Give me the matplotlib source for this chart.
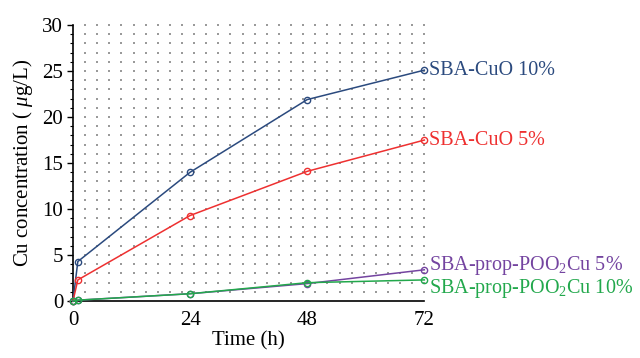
import numpy as np
import matplotlib
matplotlib.use("Agg")
import matplotlib.pyplot as plt
from matplotlib.ticker import MultipleLocator, FixedLocator

# Data
time_h = [0, 1, 24, 48, 72]
cuo_10 = [0.0, 4.3, 14.0, 21.9, 25.1]
cuo_5 = [0.0, 2.3, 9.3, 14.1, 17.5]
poo_5 = [0.0, 0.1, 0.8, 1.9, 3.4]
poo_10 = [0.0, 0.1, 0.8, 2.0, 2.3]

series = [
    ("SBA-CuO 10%", cuo_10, "#2b4a7e", 0),
    ("SBA-CuO 5%", cuo_5, "#ee3030", 0),
    ("SBA-prop-POO$_2$Cu 5%", poo_5, "#7444a0", 3),
    ("SBA-prop-POO$_2$Cu 10%", poo_10, "#22a84c", -6),
]

x_ticks = [0, 24, 48, 72]
y_ticks = [0, 5, 10, 15, 20, 25, 30]

plt.rcParams["font.family"] = ["Liberation Serif", "DejaVu Serif"]
plt.rcParams["mathtext.fontset"] = "custom"
plt.rcParams["mathtext.rm"] = "Liberation Serif"
plt.rcParams["mathtext.it"] = "Liberation Serif:italic"

fig = plt.figure(figsize=(6.4, 3.58), dpi=100)
ax = fig.add_axes([0.114, 0.159, 0.549, 0.771])

# dotted background grid
gx, gy = np.meshgrid(np.arange(1, 30) * 72 / 29, np.arange(1, 31))
ax.scatter(gx.ravel(), gy.ravel(), s=0.6, marker="s", color="#9a9a9a",
           linewidths=0, zorder=0, clip_on=False)

for label, vals, color, dy in series:
    ax.plot(time_h, vals, color=color, lw=1.1, marker="o", ms=4.5,
            mfc="none", mew=1.0, clip_on=False, zorder=3)
    ax.annotate(label, xy=(time_h[-1], vals[-1]), xytext=(3.5, dy),
                textcoords="offset points", va="center", ha="left",
                color=color, fontsize=14.5, annotation_clip=False)

ax.set_xlim(0, 72)
ax.set_ylim(0, 30)
ax.set_xticks(x_ticks)
ax.set_yticks(y_ticks)
ax.yaxis.set_minor_locator(MultipleLocator(1))
ax.xaxis.set_minor_locator(FixedLocator([72]))

ax.tick_params(axis="y", which="major", direction="out", length=4, width=1,
               labelsize=15, pad=3)
ax.tick_params(axis="y", which="minor", direction="out", length=2, width=0.8)
ax.tick_params(axis="x", which="major", length=0, labelsize=15, pad=7)
ax.tick_params(axis="x", which="minor", direction="out", length=5, width=1)

for side in ["top", "right"]:
    ax.spines[side].set_visible(False)
for side in ["left", "bottom"]:
    ax.spines[side].set_linewidth(1.2)

ax.set_xlabel("Time (h)", fontsize=15, labelpad=1)
ax.set_ylabel(r"Cu concentration ( $\mu$g/L)", fontsize=15, labelpad=5)

fig.savefig("out.png", dpi=100)
